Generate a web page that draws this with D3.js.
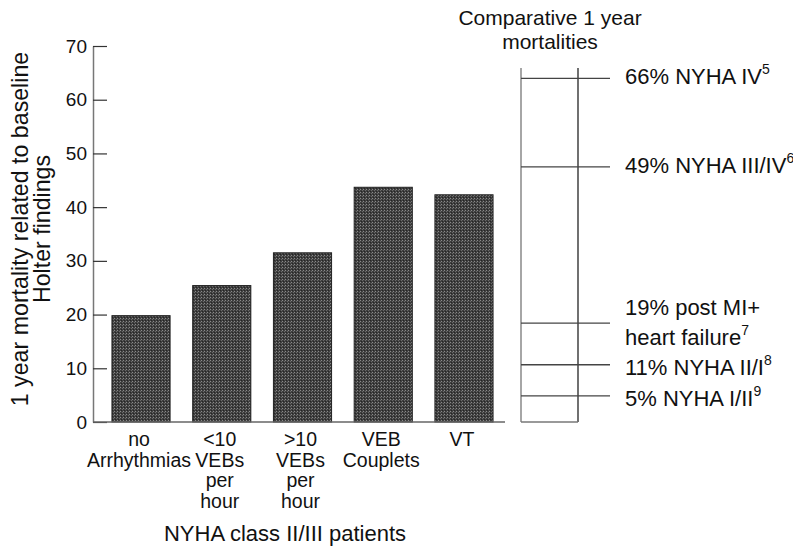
<!DOCTYPE html>
<html><head><meta charset="utf-8">
<script src="https://cdn.jsdelivr.net/npm/d3@7"></script>
<style>
body{margin:0;background:#fff;}
text{font-family:"Liberation Sans",Arial,sans-serif;fill:#111;}
</style></head><body>
<svg id="chart" width="793" height="550"></svg>
<script>
// ---- data ----
const categories = [
  ["no","Arrhythmias"],
  ["<10","VEBs","per","hour"],
  [">10","VEBs","per","hour"],
  ["VEB","Couplets"],
  ["VT"]
];
const mortality = [19.8, 25.4, 31.5, 43.7, 42.3];
const yTicks = [0,10,20,30,40,50,60,70];
const compValues = [66, 49, 19, 11, 5];
const compLabels = [
  ["66% NYHA IV"],
  ["49% NYHA III/IV"],
  ["19% post MI+","heart failure"],
  ["11% NYHA II/I"],
  ["5% NYHA I/II"]
];
const compRefs = ["5","6","7","8","9"];
const yTitle = ["1 year mortality related to baseline","Holter findings"];
const xTitle = "NYHA class II/III patients";
const compTitle = ["Comparative 1 year","mortalities"];

// ---- layout ----
const svg = d3.select("#chart");
const defs = svg.append("defs");
const pat = defs.append("pattern").attr("id","stip").attr("width",3).attr("height",3)
  .attr("patternUnits","userSpaceOnUse");
pat.append("rect").attr("width",3).attr("height",3).attr("fill","#3e3e3e");
pat.append("rect").attr("x",0).attr("y",0).attr("width",1).attr("height",1).attr("fill","#8a8a8a");
pat.append("rect").attr("x",2).attr("y",1).attr("width",1).attr("height",1).attr("fill","#6a6a6a");
pat.append("rect").attr("x",1).attr("y",2).attr("width",1).attr("height",1).attr("fill","#252525");

const y = d3.scaleLinear().domain([0,70]).range([422,46]);
const x = d3.scaleBand().domain(d3.range(categories.length)).range([100,505])
  .paddingInner(0.28).paddingOuter(0.148);

// bars
svg.append("g").selectAll("rect").data(mortality).join("rect")
  .attr("x",(d,i)=>x(i)).attr("width",x.bandwidth())
  .attr("y",d=>y(d)).attr("height",d=>y(0)-y(d))
  .attr("fill","url(#stip)").attr("stroke","#222").attr("stroke-width",1);

// y axis
const yAxis = d3.axisLeft(y).tickValues(yTicks).tickSizeInner(-14).tickSizeOuter(0).tickPadding(6);
const gy = svg.append("g").attr("transform","translate(93,0)").call(yAxis);
gy.select(".domain").attr("stroke","#777").attr("stroke-width",1.5);
gy.selectAll(".tick line").attr("stroke","#333").attr("stroke-width",1.2);
gy.selectAll(".tick text").attr("font-size",19).attr("fill","#111")
  .attr("font-family","'Liberation Sans',Arial,sans-serif");

// x baseline
svg.append("line").attr("x1",93).attr("x2",505).attr("y1",y(0)).attr("y2",y(0))
  .attr("stroke","#666").attr("stroke-width",1.5);

// category labels
const cat = svg.append("g").selectAll("text").data(categories).join("text")
  .attr("text-anchor","middle").attr("font-size",19.5)
  .attr("transform",(d,i)=>`translate(${x(i)+x.bandwidth()/2-2},446)`);
cat.selectAll("tspan").data(d=>d).join("tspan")
  .attr("x",0).attr("y",(d,i)=>i*20.5).text(d=>d);

// y title
const yt = svg.append("text").attr("text-anchor","middle").attr("font-size",23.2)
  .attr("transform","translate(0,229) rotate(-90)");
yt.selectAll("tspan").data(yTitle).join("tspan")
  .attr("x",0).attr("y",(d,i)=>28+i*22).text(d=>d);

// x title
svg.append("text").attr("x",285).attr("y",541).attr("text-anchor","middle")
  .attr("font-size",22).text(xTitle);

// comparative panel
const y2 = d3.scaleLinear().domain([0,68]).range([422,68]);
const bx0 = 521, bx1 = 578, lx1 = 610;
svg.append("line").attr("x1",bx0).attr("x2",bx0).attr("y1",y2(68)).attr("y2",y2(0))
  .attr("stroke","#888").attr("stroke-width",1.5);
svg.append("line").attr("x1",bx1).attr("x2",bx1).attr("y1",y2(68)).attr("y2",y2(0))
  .attr("stroke","#111").attr("stroke-width",1.2);
svg.append("line").attr("x1",bx0).attr("x2",bx1).attr("y1",y2(0)).attr("y2",y2(0))
  .attr("stroke","#777").attr("stroke-width",1.5);
svg.append("g").selectAll("line").data(compValues).join("line")
  .attr("x1",bx0).attr("x2",lx1).attr("y1",d=>y2(d)).attr("y2",d=>y2(d))
  .attr("stroke","#444").attr("stroke-width",1.3);

const labelNudge = [6, 6, -8, 10, 10];
const cl = svg.append("g").selectAll("text").data(compValues).join("text")
  .attr("font-size",22)
  .attr("transform",(d,i)=>`translate(625,${y2(d)+labelNudge[i]})`);
cl.each(function(d,i){
  const t = d3.select(this);
  compLabels[i].forEach((s,j)=>{
    const last = j===compLabels[i].length-1;
    t.append("tspan").attr("x",0).attr("y",j*30).text(s);
    if(last) t.append("tspan").attr("font-size",14).attr("dy",-10).text(compRefs[i]);
  });
});

const ct = svg.append("g").attr("transform","translate(550,0)");
ct.selectAll("text").data(compTitle).join("text")
  .attr("text-anchor","middle").attr("font-size",21)
  .attr("x",0).attr("y",(d,i)=>25+i*24).text(d=>d);
</script>
</body></html>
